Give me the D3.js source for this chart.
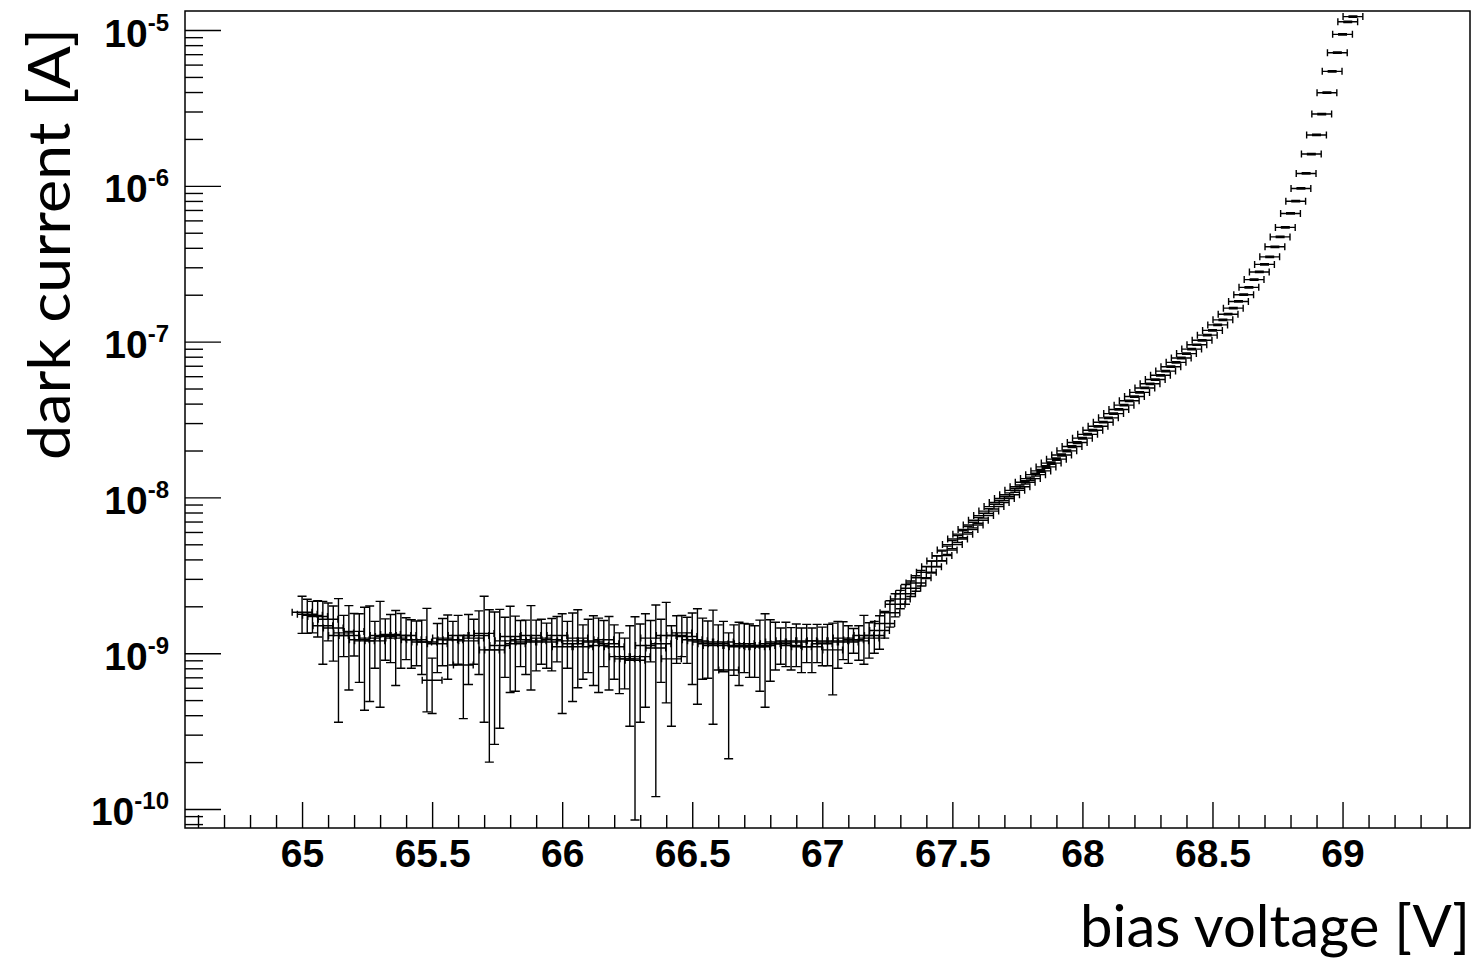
<!DOCTYPE html>
<html>
<head>
<meta charset="utf-8">
<script src="https://cdn.jsdelivr.net/npm/d3@7"></script>
<style>
  body { margin: 0; background: #fff; }
  svg { display: block; }
</style>
</head>
<body>
<svg id="chart" width="1474" height="964"></svg>
<script>
// Bias voltage of each measurement [V]
const voltage = [
  65.00, 65.02, 65.04, 65.06, 65.08, 65.10, 65.12, 65.14, 65.16, 65.18,
  65.20, 65.22, 65.24, 65.26, 65.28, 65.30, 65.32, 65.34, 65.36, 65.38,
  65.40, 65.42, 65.44, 65.46, 65.48, 65.50, 65.52, 65.54, 65.56, 65.58,
  65.60, 65.62, 65.64, 65.66, 65.68, 65.70, 65.72, 65.74, 65.76, 65.78,
  65.80, 65.82, 65.84, 65.86, 65.88, 65.90, 65.92, 65.94, 65.96, 65.98,
  66.00, 66.02, 66.04, 66.06, 66.08, 66.10, 66.12, 66.14, 66.16, 66.18,
  66.20, 66.22, 66.24, 66.26, 66.28, 66.30, 66.32, 66.34, 66.36, 66.38,
  66.40, 66.42, 66.44, 66.46, 66.48, 66.50, 66.52, 66.54, 66.56, 66.58,
  66.60, 66.62, 66.64, 66.66, 66.68, 66.70, 66.72, 66.74, 66.76, 66.78,
  66.80, 66.82, 66.84, 66.86, 66.88, 66.90, 66.92, 66.94, 66.96, 66.98,
  67.00, 67.02, 67.04, 67.06, 67.08, 67.10, 67.12, 67.14, 67.16, 67.18,
  67.20, 67.22, 67.24, 67.26, 67.28, 67.30, 67.32, 67.34, 67.36, 67.38,
  67.40, 67.42, 67.44, 67.46, 67.48, 67.50, 67.52, 67.54, 67.56, 67.58,
  67.60, 67.62, 67.64, 67.66, 67.68, 67.70, 67.72, 67.74, 67.76, 67.78,
  67.80, 67.82, 67.84, 67.86, 67.88, 67.90, 67.92, 67.94, 67.96, 67.98,
  68.00, 68.02, 68.04, 68.06, 68.08, 68.10, 68.12, 68.14, 68.16, 68.18,
  68.20, 68.22, 68.24, 68.26, 68.28, 68.30, 68.32, 68.34, 68.36, 68.38,
  68.40, 68.42, 68.44, 68.46, 68.48, 68.50, 68.52, 68.54, 68.56, 68.58,
  68.60, 68.62, 68.64, 68.66, 68.68, 68.70, 68.72, 68.74, 68.76, 68.78,
  68.80, 68.82, 68.84, 68.86, 68.88, 68.90, 68.92, 68.94, 68.96, 68.98,
  69.00, 69.02, 69.04
];

// Measured dark current [nA]
const current_nA = [
  1.83, 1.78, 1.75, 1.72, 1.50, 1.65, 1.45, 1.30, 1.35, 1.30,
  1.38, 1.22, 1.20, 1.25, 1.20, 1.30, 1.28, 1.32, 1.25, 1.30,
  1.30, 1.22, 1.22, 1.18, 1.18, 0.67, 1.15, 1.25, 1.22, 1.22,
  1.30, 0.84, 1.20, 1.25, 1.30, 1.34, 1.05, 1.05, 1.12, 1.20,
  1.28, 1.15, 1.22, 1.18, 1.30, 1.20, 1.25, 1.18, 1.22, 1.30,
  1.10, 1.20, 1.15, 1.25, 1.10, 1.20, 1.18, 1.12, 1.22, 1.15,
  1.10, 0.95, 0.92, 0.92, 0.90, 0.95, 1.12, 1.25, 1.08, 1.15,
  1.30, 0.92, 1.30, 1.35, 1.28, 1.22, 1.20, 1.18, 1.15, 1.12,
  1.15, 1.18, 0.78, 1.12, 1.10, 1.15, 1.12, 1.10, 1.10, 1.12,
  1.15, 1.18, 1.15, 1.20, 1.12, 1.18, 1.10, 1.20, 1.10, 1.20,
  1.15, 1.18, 1.05, 1.20, 1.25, 1.18, 1.22, 1.20, 1.30, 1.25,
  1.30, 1.40, 1.55, 1.82, 2.06, 2.23, 2.41, 2.61, 2.82, 3.05,
  3.31, 3.59, 3.90, 4.23, 4.59, 4.98, 5.41, 5.81, 6.22, 6.65,
  7.13, 7.64, 8.17, 8.73, 9.27, 9.84, 10.4, 11.1, 11.7, 12.5,
  13.2, 14.0, 14.8, 15.7, 16.6, 17.6, 18.7, 19.9, 21.2, 22.5,
  24.0, 25.4, 27.0, 28.6, 30.4, 32.4, 34.5, 36.7, 39.1, 41.7,
  44.4, 47.2, 50.4, 53.6, 57.1, 60.8, 64.7, 69.0, 73.6, 78.5,
  83.8, 89.5, 95.5, 102, 110, 118, 128, 138, 150, 164,
  181, 200, 223, 250, 280, 313, 350, 406, 470, 541,
  665, 797, 962, 1200, 1600, 2120, 2890, 3960, 5430, 7150,
  9380, 11300, 12200
];

// Uncertainty of the dark current [nA]
const currentErr_nA = [
  0.49, 0.44, 0.40, 0.45, 0.65, 0.45, 0.56, 0.94, 0.40, 0.72,
  0.42, 0.57, 0.77, 0.76, 0.40, 0.85, 0.38, 0.45, 0.63, 0.50,
  0.39, 0.42, 0.39, 0.45, 0.76, 0.26, 0.40, 0.42, 0.54, 0.38,
  0.45, 0.46, 0.57, 0.40, 0.57, 0.98, 0.85, 0.79, 0.79, 0.50,
  0.72, 0.58, 0.40, 0.45, 0.72, 0.43, 0.40, 0.38, 0.45, 0.42,
  0.69, 0.40, 0.66, 0.65, 0.42, 0.45, 0.56, 0.56, 0.40, 0.57,
  0.42, 0.40, 0.33, 0.58, 0.815, 0.59, 0.67, 0.37, 0.96, 0.50,
  0.82, 0.58, 0.44, 0.40, 0.42, 0.59, 0.73, 0.50, 0.46, 0.77,
  0.37, 0.42, 0.57, 0.40, 0.48, 0.40, 0.42, 0.40, 0.53, 0.67,
  0.49, 0.40, 0.30, 0.38, 0.34, 0.36, 0.35, 0.33, 0.35, 0.33,
  0.32, 0.35, 0.51, 0.40, 0.34, 0.32, 0.22, 0.30, 0.45, 0.32,
  0.30, 0.34, 0.30, 0.35, 0.35, 0.30, 0.35, 0.30, 0.32, 0.35,
  0.30, 0.32, 0.30, 0.30, 0.28, 0.30, 0.28, 0.30, 0.28, 0.28,
  0.30, 0.28, 0.28, 0.30, 0.28, 0.30, 0.30, 0.30, 0.30, 0.30,
  0.30, 0.30, 0.30, 0.30, 0.30, 0.30, 0.30, 0.30, 0.30, 0.30,
  0.30, 0.30, 0.30, 0.30, 0.30, 0.35, 0.35, 0.35, 0.40, 0.40,
  0.45, 0.45, 0.50, 0.50, 0.55, 0.60, 0.60, 0.70, 0.70, 0.80,
  0.80, 0.90, 0.90, 1.0, 1.1, 1.2, 1.3, 1.4, 1.5, 1.6,
  1.8, 2.0, 2.2, 2.5, 2.8, 3.1, 3.5, 4, 5, 5,
  7, 8, 10, 12, 16, 21, 29, 40, 54, 72,
  94, 113, 122
];

// Half-width of the voltage uncertainty [V]
const VOLTAGE_ERR = 0.038;

// Axis ranges and tick values
const xDomain = [64.55, 69.49];
const yDomain = [7.55e-11, 1.325e-5];
const xMajorTicks = [65, 65.5, 66, 66.5, 67, 67.5, 68, 68.5, 69];
const xMinorTicks = [64.6, 64.7, 64.8, 64.9, 65.1, 65.2, 65.3, 65.4, 65.6, 65.7, 65.8, 65.9,
  66.1, 66.2, 66.3, 66.4, 66.6, 66.7, 66.8, 66.9, 67.1, 67.2, 67.3, 67.4, 67.6, 67.7, 67.8, 67.9,
  68.1, 68.2, 68.3, 68.4, 68.6, 68.7, 68.8, 68.9, 69.1, 69.2, 69.3, 69.4];
const yDecadeExponents = [-10, -9, -8, -7, -6, -5];
const yMinorMantissas = [2, 3, 4, 5, 6, 7, 8, 9];

const xTitle = "bias voltage [V]";
const yTitle = "dark current [A]";

// Frame geometry
const frame = { left: 185, top: 11, right: 1470, bottom: 828 };

const svg = d3.select("#chart");

const x = d3.scaleLinear().domain(xDomain).range([frame.left, frame.right]);
const y = d3.scaleLog().domain(yDomain).range([frame.bottom, frame.top]);

const points = voltage.map((v, i) => ({
  v: v,
  i: current_nA[i] * 1e-9,
  e: currentErr_nA[i] * 1e-9
}));

// Clip the error bars to the frame
svg.append("defs").append("clipPath").attr("id", "frameClip")
  .append("rect")
  .attr("x", frame.left).attr("y", frame.top)
  .attr("width", frame.right - frame.left)
  .attr("height", frame.bottom - frame.top);

const plot = svg.append("g")
  .attr("clip-path", "url(#frameClip)")
  .attr("stroke", "#000")
  .attr("stroke-width", 1.4)
  .attr("fill", "none");

const H_CAP = 3.5;   // half-height of the caps on voltage error bars
const V_CAP = 4.5;   // half-width of the caps on current error bars

const yClamp = val => val > 0 ? y(Math.max(val, yDomain[0] * 0.5)) : frame.bottom + 20;

const bars = plot.selectAll("g.pt").data(points).join("g").attr("class", "pt");

bars.append("path").attr("d", d => {
  const cx = x(d.v), cy = y(d.i);
  const x0 = x(d.v - VOLTAGE_ERR), x1 = x(d.v + VOLTAGE_ERR);
  const yTop = y(d.i + d.e), yBot = yClamp(d.i - d.e);
  return [
    `M${x0},${cy}H${x1}`,
    `M${x0},${cy - H_CAP}V${cy + H_CAP}`,
    `M${x1},${cy - H_CAP}V${cy + H_CAP}`,
    `M${cx},${yTop}V${yBot}`,
    `M${cx - V_CAP},${yTop}H${cx + V_CAP}`,
    `M${cx - V_CAP},${yBot}H${cx + V_CAP}`
  ].join("");
});

// ---- Axes ----
const axisFont = "'Liberation Sans', Arial, Helvetica, sans-serif";

// X axis: minor ticks
svg.append("g")
  .attr("transform", `translate(0,${frame.bottom})`)
  .call(d3.axisBottom(x).tickValues(xMinorTicks).tickSize(-13).tickFormat(""))
  .call(g => g.select(".domain").remove());

// X axis: major ticks with labels
svg.append("g")
  .attr("transform", `translate(0,${frame.bottom})`)
  .call(d3.axisBottom(x).tickValues(xMajorTicks).tickSize(-26).tickPadding(11)
    .tickFormat(d3.format("")))
  .call(g => g.select(".domain").remove())
  .call(g => g.selectAll("text")
    .attr("font-family", axisFont)
    .attr("font-weight", "bold")
    .attr("font-size", 39)
    .attr("fill", "#000"));

// Y axis: minor ticks
const yMinor = [];
yDecadeExponents.concat([-11]).forEach(p => {
  yMinorMantissas.forEach(m => {
    const val = m * Math.pow(10, p);
    if (val >= yDomain[0] && val <= yDomain[1]) yMinor.push(val);
  });
});
svg.append("g")
  .attr("transform", `translate(${frame.left},0)`)
  .call(d3.axisLeft(y).tickValues(yMinor).tickSize(-18).tickFormat(""))
  .call(g => g.select(".domain").remove());

// Y axis: decades with power-of-ten labels
const yMajor = yDecadeExponents.map(p => Math.pow(10, p));
const yAxisG = svg.append("g")
  .attr("transform", `translate(${frame.left},0)`)
  .call(d3.axisLeft(y).tickValues(yMajor).tickSize(-36).tickPadding(16).tickFormat(""))
  .call(g => g.select(".domain").remove());

yAxisG.selectAll(".tick text")
  .attr("font-family", axisFont)
  .attr("font-weight", "bold")
  .attr("font-size", 39)
  .attr("fill", "#000")
  .attr("dy", "0.41em")
  .each(function(d) {
    const t = d3.select(this);
    const p = Math.round(Math.log10(d));
    t.append("tspan").text("10");
    t.append("tspan").attr("font-size", 24).attr("dy", -16).text(String(p));
  });

svg.selectAll(".tick line").attr("stroke", "#000").attr("stroke-width", 1.4);

// Frame
svg.append("rect")
  .attr("x", frame.left).attr("y", frame.top)
  .attr("width", frame.right - frame.left)
  .attr("height", frame.bottom - frame.top)
  .attr("fill", "none")
  .attr("stroke", "#000")
  .attr("stroke-width", 1.5);

// Axis titles
const titleFont = "Lato, 'Open Sans', sans-serif";
svg.append("text")
  .attr("x", frame.right).attr("y", 946.5)
  .attr("text-anchor", "end")
  .attr("font-family", titleFont)
  .attr("font-size", 58)
  .attr("textLength", 390)
  .attr("lengthAdjust", "spacingAndGlyphs")
  .attr("fill", "#000")
  .text(xTitle);

svg.append("text")
  .attr("transform", `translate(70,28) rotate(-90)`)
  .attr("text-anchor", "end")
  .attr("font-family", titleFont)
  .attr("font-size", 58)
  .attr("textLength", 432)
  .attr("lengthAdjust", "spacingAndGlyphs")
  .attr("fill", "#000")
  .text(yTitle);
</script>
</body>
</html>
